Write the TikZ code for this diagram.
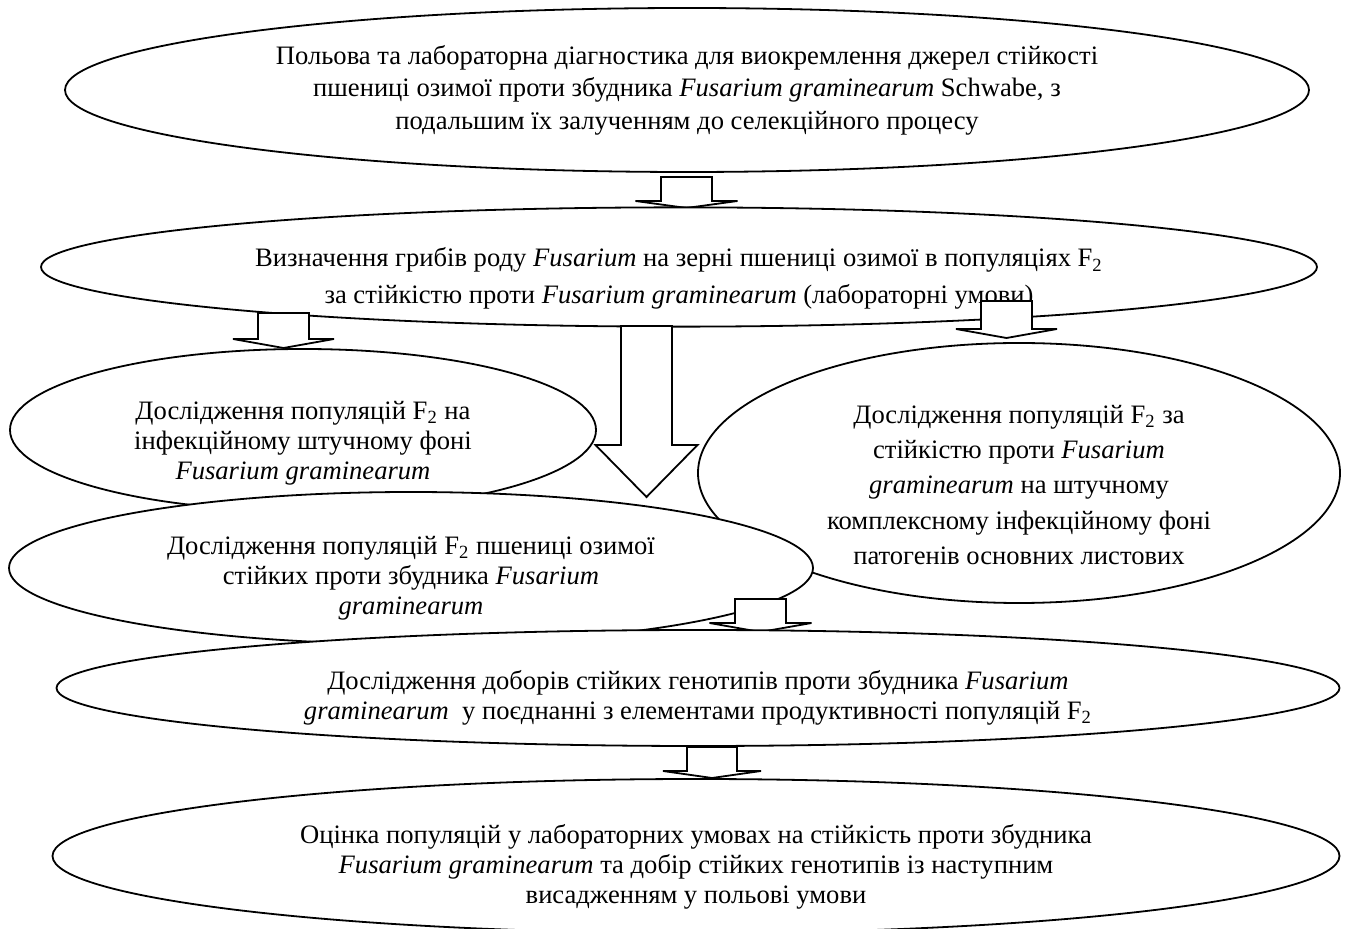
\documentclass[tikz,border=0pt]{standalone}
\usepackage{fontspec}
\setmainfont{Liberation Serif}
\usetikzlibrary{shapes.geometric}
\tikzset{
  ell/.style={draw, line width=0.9pt, fill=white, ellipse, inner sep=0pt, align=center},
  blockarr/.style={draw, line width=0.9pt, fill=white, line join=miter}
}
\newcommand\dn[1]{\rule{0pt}{#1}}
\newcommand\blockarrow[6]{% x, ytop, ybase, ytip, boxhalf, headhalf
  \draw[blockarr] ({#1-#5},#2) -- ({#1-#5},#3) -- ({#1-#6},#3) -- (#1,#4) -- ({#1+#6},#3) -- ({#1+#5},#3) -- ({#1+#5},#2) -- cycle;}
\begin{document}
\begin{tikzpicture}[x=0.5pt,y=-0.5pt]
\useasboundingbox (0,0) rectangle (1349,929);
\fill[white] (0,0) rectangle (1349,929);
% 1
\node[ell, minimum width=622pt, minimum height=82pt, font=\fontsize{13.3}{16.3}\selectfont] (e1) at (687,90)
 {Польова та лабораторна діагностика для виокремлення джерел стійкості\\
  пшениці озимої проти збудника \textit{Fusarium graminearum} Schwabe, з\\
  подальшим їх залученням до селекційного процесу};
\blockarrow{686.5}{177}{201}{208}{25.5}{51}
% 2
\node[ell, minimum width=638pt, minimum height=59pt, font=\fontsize{13.3}{18.3}\selectfont] (e2) at (679,267)
 {\dn{21pt}Визначення грибів роду \textit{Fusarium} на зерні пшениці озимої в популяціях F\textsubscript{2}\\
  за стійкістю проти \textit{Fusarium graminearum} (лабораторні умови)};
\blockarrow{283.5}{313}{339}{348}{25.5}{50.5}
\blockarrow{1006.5}{301}{329}{338}{25.5}{50.5}
% 3
\node[ell, minimum width=293pt, minimum height=81pt, font=\fontsize{13.3}{15}\selectfont] (e3) at (303,430)
 {\dn{22pt}Дослідження популяцій F\textsubscript{2} на\\
  інфекційному штучному фоні\\
  \textit{Fusarium graminearum}};
\blockarrow{646.5}{326}{445}{497}{25.5}{51}
% 5
\node[ell, minimum width=321pt, minimum height=130pt, font=\fontsize{13.3}{17.6}\selectfont] (e5) at (1019,473)
 {\dn{21pt}Дослідження популяцій F\textsubscript{2} за\\
  стійкістю проти \textit{Fusarium}\\
  \textit{graminearum} на штучному\\
  комплексному інфекційному фоні\\
  патогенів основних листових};
% 4
\node[ell, minimum width=402pt, minimum height=76pt, font=\fontsize{13.3}{15}\selectfont] (e4) at (411,568)
 {\dn{19pt}Дослідження популяцій F\textsubscript{2} пшениці озимої\\
  стійких проти збудника \textit{Fusarium}\\
  \textit{graminearum}};
\blockarrow{760.5}{599}{623}{632}{25.5}{51}
% 6
\node[ell, minimum width=641.5pt, minimum height=58pt, font=\fontsize{13.3}{15}\selectfont] (e6) at (698,688)
 {\dn{19pt}Дослідження доборів стійких генотипів проти збудника \textit{Fusarium}\\
  \textit{graminearum}\ \ у поєднанні з елементами продуктивності популяцій F\textsubscript{2}};
\blockarrow{712}{747}{771}{778}{25}{49}
% 7
\node[ell, minimum width=643.5pt, minimum height=77pt, font=\fontsize{13.3}{15}\selectfont] (e7) at (696,856)
 {\dn{20pt}Оцінка популяцій у лабораторних умовах на стійкість проти збудника\\
  \textit{Fusarium graminearum} та добір стійких генотипів із наступним\\
  висадженням у польові умови};
\end{tikzpicture}
\end{document}
